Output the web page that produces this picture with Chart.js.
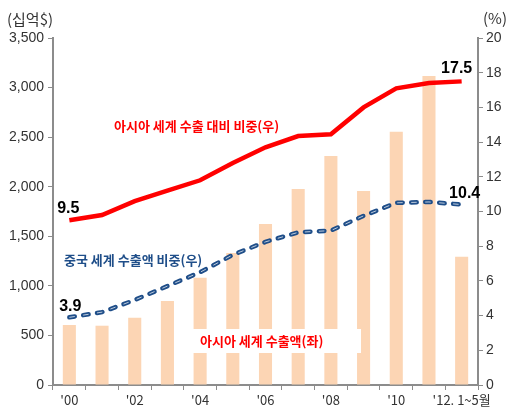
<!DOCTYPE html>
<html>
<head>
<meta charset="utf-8">
<script src="https://cdn.jsdelivr.net/npm/chart.js@4"></script>
<style>
  html, body { margin: 0; padding: 0; background: #fff; }
  #wrap { width: 506px; height: 409px; }
</style>
</head>
<body>
<div id="wrap"><canvas id="chart" width="506" height="409"></canvas></div>
<script>
// categories
const years = ["'00", "'01", "'02", "'03", "'04", "'05", "'06", "'07", "'08", "'09", "'10", "'11", "'12. 1~5월"];
// Asia world exports (bn $), left axis
const asiaExports = [605, 598, 679, 847, 1082, 1331, 1624, 1977, 2310, 1957, 2555, 3117, 1294];
// Asia share of world exports (%), right axis
const asiaShare = [9.5, 9.8, 10.6, 11.2, 11.8, 12.8, 13.7, 14.35, 14.45, 16.0, 17.1, 17.4, 17.5];
// China share of world exports (%), right axis
const chinaShare = [3.9, 4.2, 4.9, 5.7, 6.5, 7.5, 8.25, 8.8, 8.9, 9.75, 10.5, 10.55, 10.4];

const leftTicks = [0, 500, 1000, 1500, 2000, 2500, 3000, 3500];
const rightTicks = [0, 2, 4, 6, 8, 10, 12, 14, 16, 18, 20];

const tickFont = { family: "'Liberation Sans', Arial, sans-serif", size: 14 };
const axisGray = '#8c8c8c';
const krFont = "'Noto Sans CJK KR', sans-serif";

// text drawn over the chart
const overlay = {
    id: 'overlay',
    afterDatasetsDraw(chart) {
        const ctx = chart.ctx;
        const x = chart.scales.x;
        const y1 = chart.scales.y1;
        ctx.save();

        // white box behind the bar label
        ctx.fillStyle = '#ffffff';
        ctx.fillRect(193, 329, 168, 24);

        ctx.textBaseline = 'middle';
        ctx.font = 'bold 13px ' + krFont;
        ctx.fillStyle = '#ff0000';
        ctx.textAlign = 'left';
        ctx.fillText('아시아 세계 수출 대비 비중(우)', 114, 126);
        ctx.fillText('아시아 세계 수출액(좌)', 200, 341);
        ctx.fillStyle = '#1f4e89';
        ctx.fillText('중국 세계 수출액 비중(우)', 64, 260);

        // value labels
        ctx.font = "bold 16px 'Liberation Sans', Arial, sans-serif";
        ctx.fillStyle = '#000';
        const last = years.length - 1;
        ctx.textAlign = 'center';
        ctx.fillText(asiaShare[0].toFixed(1), x.getPixelForValue(0) - 1, y1.getPixelForValue(asiaShare[0]) - 12);
        ctx.fillText(chinaShare[0].toFixed(1), x.getPixelForValue(0) + 1, y1.getPixelForValue(chinaShare[0]) - 11);
        ctx.fillText(asiaShare[last].toFixed(1), x.getPixelForValue(last) - 5, y1.getPixelForValue(asiaShare[last]) - 13);
        ctx.fillText(chinaShare[last].toFixed(1), x.getPixelForValue(last) + 3, y1.getPixelForValue(chinaShare[last]) - 11);

        // axis units
        ctx.font = '15px ' + krFont;
        ctx.fillStyle = '#333';
        ctx.textAlign = 'left';
        ctx.fillText('(십억$)', 7, 19);
        ctx.fillText('(%)', 483, 18);
        ctx.restore();
    }
};

const ctx = document.getElementById('chart').getContext('2d');
const myChart = new Chart(ctx, {
    type: 'bar',
    data: {
        labels: years,
        datasets: [
            {
                type: 'line',
                data: asiaShare,
                yAxisID: 'y1',
                borderColor: '#ff0000',
                borderWidth: 4.5,
                pointRadius: 0,
                tension: 0,
                order: 1
            },
            {
                type: 'line',
                data: chinaShare,
                yAxisID: 'y1',
                borderColor: '#1f4e89',
                borderWidth: 4.5,
                borderDash: [5.5, 8.5],
                borderCapStyle: 'round',
                pointRadius: 0,
                tension: 0,
                order: 2
            },
            {
                type: 'line',
                data: chinaShare,
                yAxisID: 'y1',
                borderColor: 'rgba(255,255,255,0.7)',
                borderWidth: 1,
                borderDash: [5.5, 8.5],
                pointRadius: 0,
                tension: 0,
                order: 0
            },
            {
                type: 'bar',
                data: asiaExports,
                yAxisID: 'y',
                backgroundColor: '#fcd5b4',
                barPercentage: 0.4,
                categoryPercentage: 1,
                order: 3
            }
        ]
    },
    options: {
        responsive: false,
        animation: false,
        layout: { padding: { top: 38, left: 0, right: 0, bottom: 0 } },
        plugins: { legend: { display: false }, tooltip: { enabled: false } },
        scales: {
            x: {
                offset: true,
                grid: { offset: true, drawOnChartArea: false, drawTicks: true, tickLength: 5, color: axisGray, lineWidth: 1 },
                border: { color: axisGray, width: 2 },
                ticks: {
                    autoSkip: false,
                    maxRotation: 0,
                    padding: 2,
                    color: '#333',
                    font: { family: krFont, size: 13 },
                    callback: function(v, i) { return i % 2 === 0 ? years[i] : ''; }
                },
                afterFit: function(s) { s.height = 24; }
            },
            y: {
                position: 'left',
                min: leftTicks[0],
                max: leftTicks[leftTicks.length - 1],
                afterBuildTicks: function(s) { s.ticks = leftTicks.map(v => ({ value: v })); },
                grid: { drawOnChartArea: false, drawTicks: true, tickLength: 5, color: axisGray },
                border: { color: axisGray, width: 2 },
                ticks: {
                    padding: 4,
                    color: '#333',
                    font: tickFont,
                    callback: function(v) { return v.toLocaleString('en-US'); }
                },
                afterFit: function(s) { s.width = 53; }
            },
            y1: {
                position: 'right',
                min: rightTicks[0],
                max: rightTicks[rightTicks.length - 1],
                afterBuildTicks: function(s) { s.ticks = rightTicks.map(v => ({ value: v })); },
                grid: { drawOnChartArea: false, drawTicks: true, tickLength: 5, color: axisGray },
                border: { color: axisGray, width: 2 },
                ticks: { padding: 3, color: '#333', font: tickFont },
                afterFit: function(s) { s.width = 28; }
            }
        }
    },
    plugins: [overlay]
});
</script>
</body>
</html>
